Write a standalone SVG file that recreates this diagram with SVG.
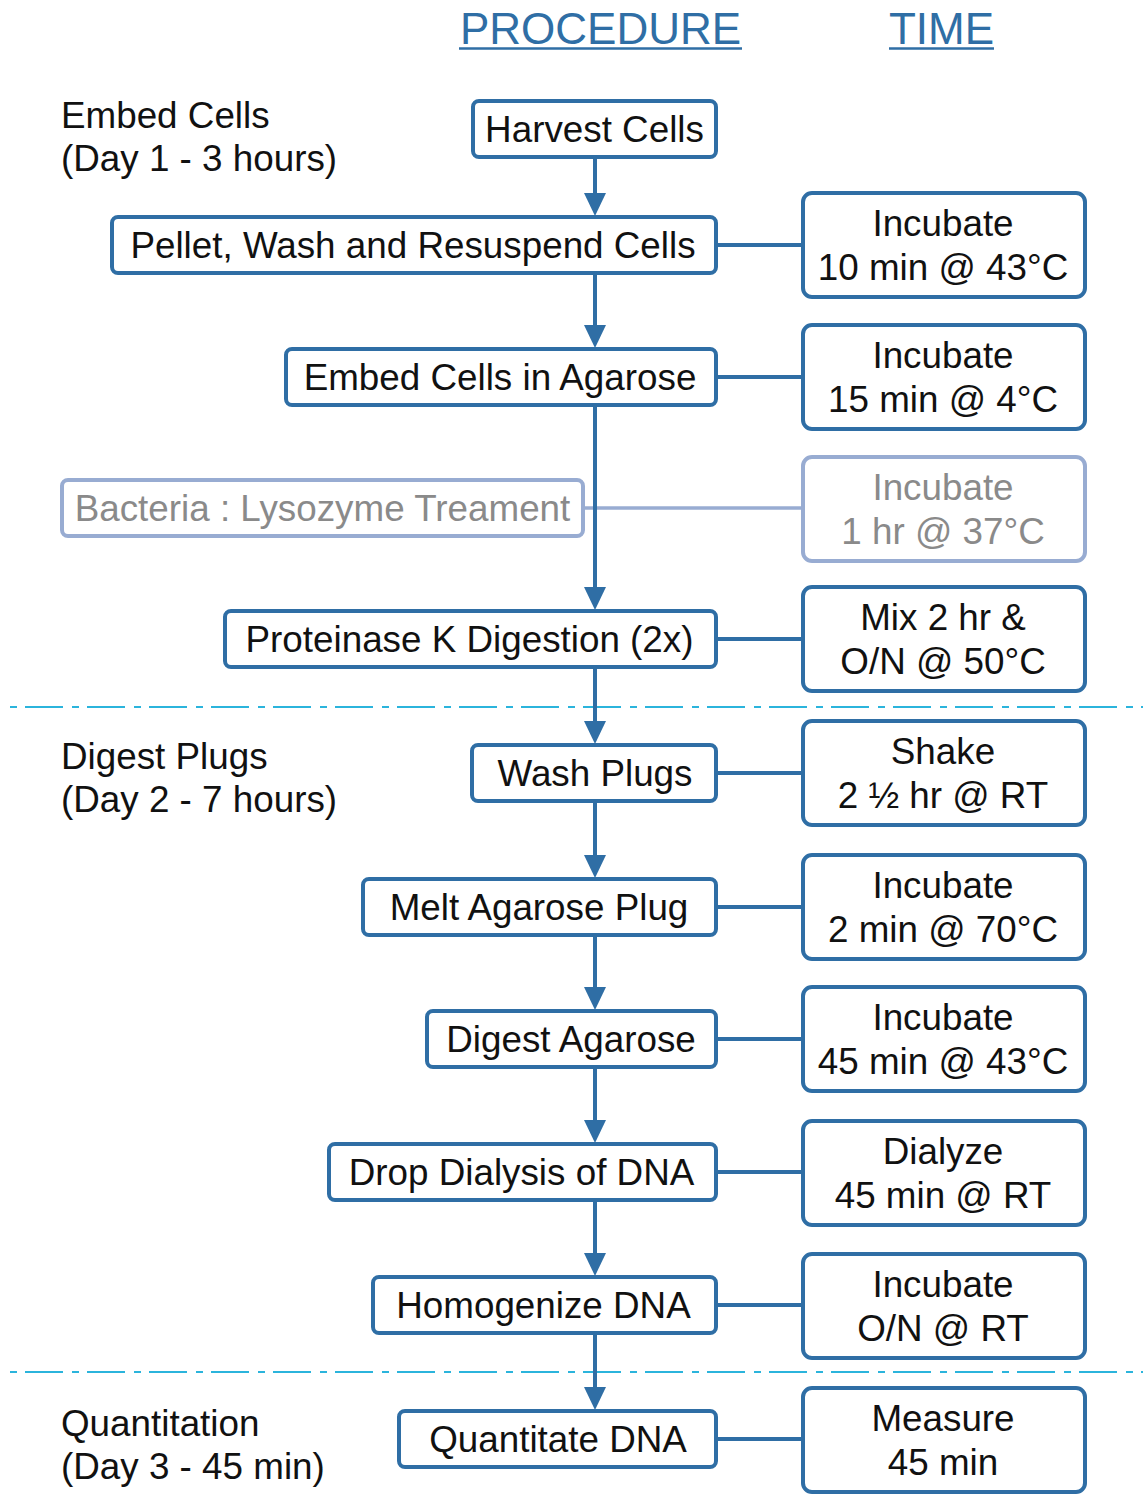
<svg xmlns="http://www.w3.org/2000/svg" width="1143" height="1502" viewBox="0 0 1143 1502">
<defs>
<style>
text{font-family:"Liberation Sans",Arial,Helvetica,sans-serif;font-size:36.8px;fill:#111;}
.c{text-anchor:middle;}
.hdr{font-size:44px;fill:#2f6ea5;text-anchor:middle;}
.box{fill:#fff;stroke:#2f6ea5;stroke-width:4;}
.fbox{fill:#fff;stroke:#98acd2;stroke-width:4;}
.ftxt{fill:#8a8a8a;}
.ln{stroke:#2f6ea5;stroke-width:4;fill:none;}
.fln{stroke:#98acd2;stroke-width:3.5;fill:none;}
.dash{stroke:#2bb4dc;stroke-width:2.2;stroke-dasharray:7 8 38 9;fill:none;}
</style>
<marker id="ah" viewBox="0 0 23 22" refX="13" refY="11" markerWidth="23" markerHeight="22" markerUnits="userSpaceOnUse" orient="auto">
<path d="M0,0 L23,11 L0,22 z" fill="#2f6ea5"/>
</marker>
</defs>
<rect width="1143" height="1502" fill="#fff"/>

<g id="headers">
<text class="hdr" x="600.5" y="44">PROCEDURE</text>
<line x1="459" y1="48.5" x2="742" y2="48.5" stroke="#2f6ea5" stroke-width="2.5"/>
<text class="hdr" x="941.5" y="44">TIME</text>
<line x1="889" y1="48.5" x2="994" y2="48.5" stroke="#2f6ea5" stroke-width="2.5"/>
</g>

<g id="phase-labels">
<text x="61" y="128">Embed Cells</text>
<text x="61" y="171">(Day 1 - 3 hours)</text>
<text x="61" y="769">Digest Plugs</text>
<text x="61" y="812">(Day 2 - 7 hours)</text>
<text x="61" y="1436">Quantitation</text>
<text x="61" y="1479">(Day 3 - 45 min)</text>
</g>

<g id="dividers">
<line class="dash" x1="10" y1="707" x2="1143" y2="707"/>
<line class="dash" x1="10" y1="1372" x2="1143" y2="1372"/>
</g>

<g id="connectors">
<line class="fln" x1="583" y1="508" x2="803" y2="508"/>
<line class="ln" x1="595" y1="157" x2="595" y2="206" marker-end="url(#ah)"/>
<line class="ln" x1="595" y1="273" x2="595" y2="338" marker-end="url(#ah)"/>
<line class="ln" x1="595" y1="405" x2="595" y2="600" marker-end="url(#ah)"/>
<line class="ln" x1="595" y1="667" x2="595" y2="734" marker-end="url(#ah)"/>
<line class="ln" x1="595" y1="801" x2="595" y2="868" marker-end="url(#ah)"/>
<line class="ln" x1="595" y1="935" x2="595" y2="1000" marker-end="url(#ah)"/>
<line class="ln" x1="595" y1="1067" x2="595" y2="1133" marker-end="url(#ah)"/>
<line class="ln" x1="595" y1="1200" x2="595" y2="1266" marker-end="url(#ah)"/>
<line class="ln" x1="595" y1="1333" x2="595" y2="1400" marker-end="url(#ah)"/>
<line class="ln" x1="716" y1="245" x2="803" y2="245"/>
<line class="ln" x1="716" y1="377" x2="803" y2="377"/>
<line class="ln" x1="716" y1="639" x2="803" y2="639"/>
<line class="ln" x1="716" y1="773" x2="803" y2="773"/>
<line class="ln" x1="716" y1="907" x2="803" y2="907"/>
<line class="ln" x1="716" y1="1039" x2="803" y2="1039"/>
<line class="ln" x1="716" y1="1172" x2="803" y2="1172"/>
<line class="ln" x1="716" y1="1305" x2="803" y2="1305"/>
<line class="ln" x1="716" y1="1439" x2="803" y2="1439"/>
</g>

<g id="harvest">
<rect class="box" x="473" y="101" width="243" height="56" rx="6"/>
<text class="c" x="594.5" y="142">Harvest Cells</text>
</g>
<g id="pellet">
<rect class="box" x="112" y="217" width="604" height="56" rx="6"/>
<text class="c" x="413" y="258">Pellet, Wash and Resuspend Cells</text>
</g>
<g id="embed">
<rect class="box" x="286" y="349" width="430" height="56" rx="6"/>
<text class="c" x="500" y="390">Embed Cells in Agarose</text>
</g>
<g id="bacteria">
<rect class="fbox" x="62" y="480" width="521" height="56" rx="6"/>
<text class="c ftxt" x="322.5" y="521">Bacteria : Lysozyme Treament</text>
</g>
<g id="proteinase">
<rect class="box" x="225" y="611" width="491" height="56" rx="6"/>
<text class="c" x="469.5" y="652">Proteinase K Digestion (2x)</text>
</g>
<g id="wash">
<rect class="box" x="472" y="745" width="244" height="56" rx="6"/>
<text class="c" x="595" y="786">Wash Plugs</text>
</g>
<g id="melt">
<rect class="box" x="363" y="879" width="353" height="56" rx="6"/>
<text class="c" x="539" y="920">Melt Agarose Plug</text>
</g>
<g id="digest">
<rect class="box" x="427" y="1011" width="289" height="56" rx="6"/>
<text class="c" x="571" y="1052">Digest Agarose</text>
</g>
<g id="dialysis">
<rect class="box" x="329" y="1144" width="387" height="56" rx="6"/>
<text class="c" x="521.5" y="1185">Drop Dialysis of DNA</text>
</g>
<g id="homogenize">
<rect class="box" x="373" y="1277" width="343" height="56" rx="6"/>
<text class="c" x="543.5" y="1318">Homogenize DNA</text>
</g>
<g id="quantitate">
<rect class="box" x="399" y="1411" width="317" height="56" rx="6"/>
<text class="c" x="558" y="1452">Quantitate DNA</text>
</g>

<g id="t1">
<rect class="box" x="803" y="193" width="282" height="104" rx="9"/>
<text class="c" x="943" y="236">Incubate</text>
<text class="c" x="943" y="280">10 min @ 43°C</text>
</g>
<g id="t2">
<rect class="box" x="803" y="325" width="282" height="104" rx="9"/>
<text class="c" x="943" y="368">Incubate</text>
<text class="c" x="943" y="412">15 min @ 4°C</text>
</g>
<g id="t3">
<rect class="fbox" x="803" y="457" width="282" height="104" rx="9"/>
<text class="c ftxt" x="943" y="500">Incubate</text>
<text class="c ftxt" x="943" y="544">1 hr @ 37°C</text>
</g>
<g id="t4">
<rect class="box" x="803" y="587" width="282" height="104" rx="9"/>
<text class="c" x="943" y="630">Mix 2 hr &amp;</text>
<text class="c" x="943" y="674">O/N @ 50°C</text>
</g>
<g id="t5">
<rect class="box" x="803" y="721" width="282" height="104" rx="9"/>
<text class="c" x="943" y="764">Shake</text>
<text class="c" x="943" y="808">2 ½ hr @ RT</text>
</g>
<g id="t6">
<rect class="box" x="803" y="855" width="282" height="104" rx="9"/>
<text class="c" x="943" y="898">Incubate</text>
<text class="c" x="943" y="942">2 min @ 70°C</text>
</g>
<g id="t7">
<rect class="box" x="803" y="987" width="282" height="104" rx="9"/>
<text class="c" x="943" y="1030">Incubate</text>
<text class="c" x="943" y="1074">45 min @ 43°C</text>
</g>
<g id="t8">
<rect class="box" x="803" y="1121" width="282" height="104" rx="9"/>
<text class="c" x="943" y="1164">Dialyze</text>
<text class="c" x="943" y="1208">45 min @ RT</text>
</g>
<g id="t9">
<rect class="box" x="803" y="1254" width="282" height="104" rx="9"/>
<text class="c" x="943" y="1297">Incubate</text>
<text class="c" x="943" y="1341">O/N @ RT</text>
</g>
<g id="t10">
<rect class="box" x="803" y="1388" width="282" height="104" rx="9"/>
<text class="c" x="943" y="1431">Measure</text>
<text class="c" x="943" y="1475">45 min</text>
</g>
</svg>
